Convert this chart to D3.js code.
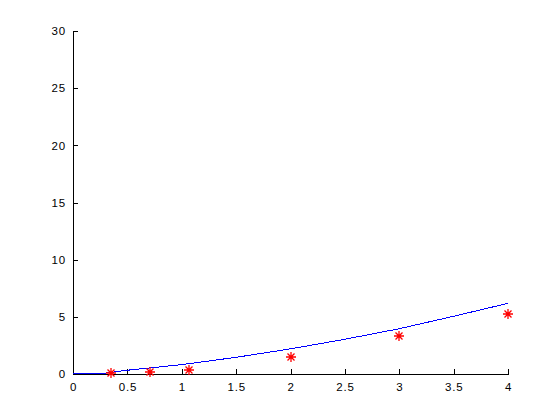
<!DOCTYPE html>
<html>
<head>
<meta charset="utf-8">
<script src="https://cdn.jsdelivr.net/npm/d3@7"></script>
<style>
  html, body { margin: 0; padding: 0; background: #fff; }
  svg { display: block; }
  text { font-family: "Liberation Sans", Arial, sans-serif; font-size: 11px; fill: #000; }
</style>
</head>
<body>
<script>
// Curve (blue line)
const lineX = [0, 0.25, 0.5, 1, 1.5, 2, 2.5, 3, 3.5, 4];
const lineY = [0, 0.02, 0.33, 0.82, 1.46, 2.2, 3.04, 3.96, 5.05, 6.18];
// Data points (red stars)
const pointX = [0.345, 0.71, 1.066, 2, 3, 4];
const pointY = [0.05, 0.15, 0.35, 1.51, 3.32, 5.25];
// Ticks
const xTicks = [0, 0.5, 1, 1.5, 2, 2.5, 3, 3.5, 4];
const yTicks = [0, 5, 10, 15, 20, 25, 30];

const W = 560, H = 420;
const margin = { left: 73, right: 52, top: 31, bottom: 46 };

const svg = d3.select("body").append("svg").attr("width", W).attr("height", H);

const x = d3.scaleLinear().domain([0, 4]).range([margin.left, W - margin.right]);
const y = d3.scaleLinear().domain([0, 30]).range([H - margin.bottom, margin.top]);

// Axes (MATLAB style: ticks inward)
const xAxis = d3.axisBottom(x).tickValues(xTicks).tickSizeInner(-5).tickSizeOuter(0)
  .tickPadding(9).tickFormat(d3.format("~g"));
const yAxis = d3.axisLeft(y).tickValues(yTicks).tickSizeInner(-5).tickSizeOuter(0)
  .tickPadding(7).tickFormat(d3.format("~g"));

const gx = svg.append("g").attr("transform", `translate(0,${y(0)})`).call(xAxis);
const gy = svg.append("g").attr("transform", `translate(${x(0)},0)`).call(yAxis);
[gx, gy].forEach(g => {
  g.selectAll("path, line").attr("stroke", "#000").attr("shape-rendering", "crispEdges");
  g.selectAll("text").style("font-family", "'Liberation Sans', Arial, sans-serif")
    .style("font-size", "11.5px").attr("fill", "#000").style("letter-spacing", "0.8px");
});
gx.selectAll("text").attr("dy", "0.71em");

// Blue line
const lineData = lineX.map((v, i) => [v, lineY[i]]);
svg.append("path")
  .datum(lineData)
  .attr("fill", "none")
  .attr("stroke", "#0000ff")
  .attr("stroke-width", 1)
  .attr("shape-rendering", "crispEdges")
  .attr("d", d3.line().x(d => x(d[0])).y(d => y(d[1])));

// Red star markers
const pts = pointX.map((v, i) => [v, pointY[i]]);
const r = 5, rd = 3.5;
const mk = svg.append("g").attr("stroke", "#ff0000").attr("stroke-width", 1.3).attr("fill", "none");
pts.forEach(p => {
  const cx = Math.round(x(p[0])), cy = Math.round(y(p[1]));
  const path = `M${cx - r},${cy}H${cx + r}M${cx},${cy - r}V${cy + r}` +
    `M${cx - rd},${cy - rd}L${cx + rd},${cy + rd}M${cx - rd},${cy + rd}L${cx + rd},${cy - rd}`;
  mk.append("path").attr("d", path);
});
</script>
</body>
</html>
